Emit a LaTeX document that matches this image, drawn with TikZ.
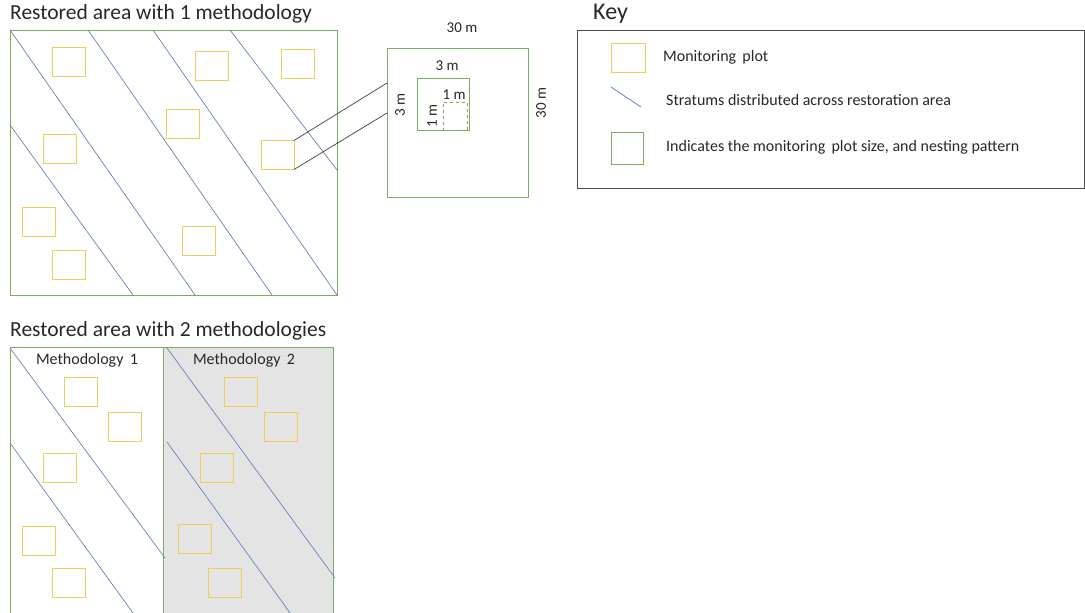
\documentclass[tikz,border=0pt]{standalone}
\usepackage{fontspec}
\setmainfont{Carlito}
\usepackage{tikz}
\definecolor{areagreen}{RGB}{125,170,95}
\definecolor{plotyellow}{RGB}{240,205,90}
\definecolor{stratblue}{RGB}{105,130,185}
\definecolor{methgray}{RGB}{228,228,228}
\definecolor{txtgray}{RGB}{40,40,40}

\begin{document}
\begin{tikzpicture}[x=1pt,y=-1pt, every node/.style={font=\fontsize{15}{17}\selectfont,text=txtgray},
  plotbox/.style={draw=plotyellow,line width=0.9pt,minimum width=33pt,minimum height=29pt,inner sep=0pt,outer sep=0pt},
  nestbox/.style={draw=areagreen,line width=0.8pt,inner sep=0pt,outer sep=0pt},
  stratum/.style={draw=stratblue,line width=0.7pt},
  area/.style={draw=areagreen,line width=0.8pt},
  keytext/.style={anchor=west,inner sep=0pt,font=\fontsize{16}{18}\selectfont},
  title/.style={anchor=west,inner sep=0pt,font=\fontsize{21.5}{24}\selectfont}]
\useasboundingbox (0,0) rectangle (1085,613);

% restored area with 1 methodology
\node[title] (t1) at (10,14) {Restored area with 1 methodology};
\draw[area] (10,30) rectangle (337,295);
\draw[stratum] (10,125) -- (133,295);
\draw[stratum] (10,30) -- (195,295);
\draw[stratum] (88,30) -- (272,295);
\draw[stratum] (153,30) -- (337,295);
\draw[stratum] (230,30) -- (337,170);

\node[plotbox] (p1) at (68.5,61.5) {};
\node[plotbox] (p2) at (211.5,65.5) {};
\node[plotbox] (p3) at (297.5,63.5) {};
\node[plotbox] (p4) at (182.5,123.5) {};
\node[plotbox] (p5) at (60,149) {};
\node[plotbox] (p6) at (277.5,155) {};
\node[plotbox] (p7) at (39,221.5) {};
\node[plotbox] (p8) at (198.5,240.5) {};
\node[plotbox] (p9) at (68.5,265) {};

% nested plot sizes
\node[nestbox,minimum width=141pt,minimum height=149pt] (sq30) at (457.5,122.5) {};
\node[nestbox,minimum width=52pt,minimum height=52pt] (sq3) at (443,104) {};
\node[nestbox,dashed,minimum width=24pt,minimum height=28pt] (sq1) at (455,116) {};
\node (l30h) at (462,28) {30 m};
\node[rotate=90] (l30v) at (541,103) {30 m};
\node (l3h) at (447,66) {3 m};
\node[rotate=90] (l3v) at (400,105) {3 m};
\node (l1h) at (454,95) {1 m};
\node[rotate=90] (l1v) at (432,116) {1 m};
\coordinate (ja) at (387,83);
\coordinate (jb) at (387,113);
\draw[black!75,line width=0.7pt] (p6.north east) -- (ja);
\draw[black!75,line width=0.7pt] (p6.south east) -- (jb);

% key
\node[title,font=\fontsize{24}{26}\selectfont] (tkey) at (593,14) {Key};
\draw[black!70,line width=0.7pt] (577,30) rectangle (1084,188);
\node[plotbox,minimum width=34pt] (kplot) at (628,57.5) {};
\node[keytext] (kplottxt) at (663,57) {Monitoring\, plot};
\coordinate (ks1) at (611,87);
\coordinate (ks2) at (641,107);
\draw[stratum] (ks1) -- (ks2);
\node[keytext] (kstrattxt) at (666,100) {Stratums distributed across restoration area};
\node[nestbox,minimum width=32pt,minimum height=32pt] (knest) at (627,148) {};
\node[keytext] (knesttxt) at (666,147) {Indicates the monitoring\, plot size, and nesting pattern};

% restored area with 2 methodologies
\node[title] (t2) at (10,331) {Restored area with 2 methodologies};
\begin{scope}
\clip (0,0) rectangle (1085,613);
\fill[methgray] (163,347) rectangle (333,640);
\draw[stratum] (10,348) -- (165,558);
\draw[stratum] (10,443) -- (141,624);
\draw[stratum] (167,348) -- (335,578);
\draw[stratum] (167,442) -- (298,624);
\draw[area] (10,347) rectangle (333,640);
\draw[area] (163,347) -- (163,640);
\end{scope}
\node[font=\fontsize{16}{18}\selectfont] (m1) at (87,360) {Methodology\, 1};
\node[font=\fontsize{16}{18}\selectfont] (m2) at (244,360) {Methodology\, 2};

\node[plotbox] (q1) at (80.5,391.5) {};
\node[plotbox] (q2) at (124.5,427) {};
\node[plotbox] (q3) at (60,467.5) {};
\node[plotbox] (q4) at (39,540.5) {};
\node[plotbox] (q5) at (68.5,583) {};
\node[plotbox] (q6) at (241,391.5) {};
\node[plotbox] (q7) at (281,426.5) {};
\node[plotbox] (q8) at (217,467.5) {};
\node[plotbox] (q9) at (195,539) {};
\node[plotbox] (q10) at (225,583) {};
\end{tikzpicture}
\end{document}
